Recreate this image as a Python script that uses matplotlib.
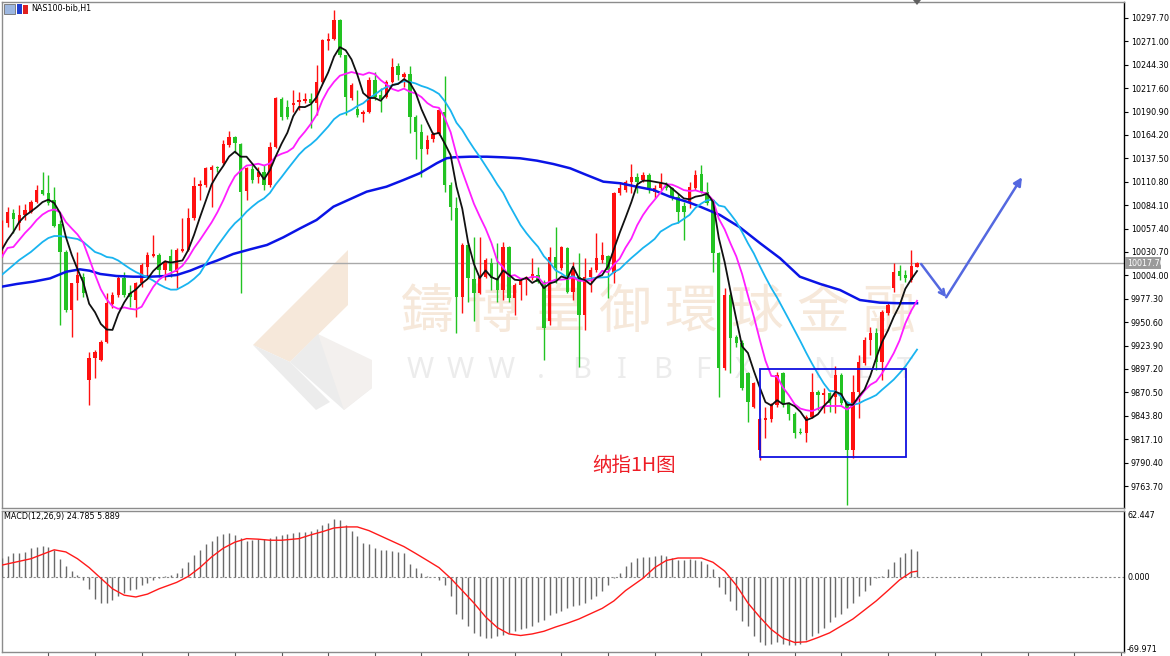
import matplotlib
matplotlib.use('Agg')
import matplotlib.pyplot as plt
from matplotlib.transforms import Affine2D
from matplotlib.patches import Polygon, Rectangle
import numpy as np
import pandas as pd

plt.rcParams['font.family'] = ['DejaVu Sans']

# ---------------- data (NAS100 H1 candles) ----------------
opens = [10030,10064,10075,10064,10073,10076,10088,10101,10098,10090,
         10063,10031,9965,9995,10002,9885,9910,9907,9928,9971,
         9982,10001,9984,9976,9995,10014,10026,10027,10010,10026,
         10008,10032,10033,10070,10106,10107,10124,10128,10132,10153,
         10162,10154,10100,10125,10116,10122,10107,10151,10205,10196,
         10198,10202,10203,10205,10201,10225,10271,10274,10295,10255,
         10206,10194,10188,10190,10227,10210,10207,10225,10243,10230,
         10234,10185,10168,10148,10160,10165,10190,10107,10081,9979,
         10039,10000,9984,10002,10018,10001,9987,10036,9978,9993,
         9999,10001,10004,9997,9952,10025,10012,10035,9985,10002,
         9959,10002,10010,10022,10026,10007,10098,10101,10110,10116,
         10113,10119,10099,10104,10108,10104,10093,10083,10087,10104,
         10120,10099,10090,10030,9898,9982,9934,9927,9893,9854,
         9805,9839,9840,9856,9893,9858,9846,9825,9824,9842,
         9871,9867,9870,9865,9890,9858,9805,9871,9904,9930,
         9938,9905,9961,9990,10009,10004,9999,10014]
highs = [10067,10082,10080,10084,10085,10090,10107,10122,10119,10105,
         10067,10033,9995,10031,10007,9917,9919,9930,9984,9985,
         10004,10008,9993,9997,10018,10031,10050,10030,10022,10034,
         10035,10070,10081,10116,10113,10128,10130,10129,10159,10169,
         10163,10155,10128,10132,10128,10130,10156,10207,10207,10204,
         10216,10213,10212,10212,10244,10274,10281,10307,10297,10256,
         10224,10216,10193,10230,10236,10218,10227,10252,10246,10236,
         10243,10187,10177,10164,10168,10195,10231,10110,10093,10041,
         10041,10048,10048,10024,10024,10041,10042,10038,9995,10001,
         10003,10024,10014,9999,10036,10059,10038,10036,10019,10030,
         10024,10014,10052,10042,10027,10099,10110,10113,10131,10121,
         10122,10121,10107,10121,10110,10105,10098,10088,10110,10124,
         10130,10110,10091,10031,9990,9984,9936,9930,9894,9882,
         9841,9854,9858,9894,9894,9859,9848,9830,9845,9893,
         9873,9876,9871,9901,9893,9861,9890,9913,9934,9945,
         9944,9965,9972,10018,10016,10010,10033,10019]
lows = [10025,10059,10052,10056,10067,10075,10087,10096,10084,10059,
        9947,9962,9934,9976,9979,9856,9887,9906,9927,9967,
        9979,9979,9968,9957,9991,10002,10025,10002,9999,10002,
        9990,10031,10032,10067,10090,10105,10082,10122,10130,10151,
        10144,9984,10090,10109,10109,10101,10105,10149,10181,10182,
        10190,10193,10201,10172,10187,10224,10261,10273,10253,10187,
        10204,10185,10179,10189,10204,10190,10206,10224,10227,10219,
        10166,10137,10116,10143,10156,10164,10099,10067,9938,9961,
        9974,9952,9983,10001,9987,9974,9976,9974,9959,9976,
        9982,9999,9995,9907,9947,9995,10010,9984,9976,9899,
        9942,9985,10008,10018,9978,9995,10096,10099,10098,10098,
        10111,10098,10092,10101,10101,10090,10064,10044,10081,10101,
        10098,10084,10008,9865,9896,9893,9922,9873,9837,9853,
        9793,9818,9837,9854,9854,9839,9818,9823,9814,9841,
        9850,9847,9848,9847,9856,9742,9796,9841,9902,9913,
        9896,9885,9959,9985,9999,9997,9997,10013]
closes = [10064,10076,10068,10073,10079,10088,10101,10097,10087,10060,
          10031,9965,9995,10004,9984,9910,9917,9928,9972,9982,
          10001,9982,9979,9995,10016,10027,10028,10010,10019,10009,
          10033,10034,10070,10106,10108,10127,10128,10127,10154,10162,
          10155,10099,10127,10113,10122,10107,10151,10206,10185,10185,
          10201,10204,10205,10201,10225,10273,10274,10295,10255,10207,
          10221,10187,10190,10227,10207,10205,10225,10242,10233,10234,
          10185,10168,10148,10159,10165,10193,10107,10082,9979,10039,
          10001,9984,10002,10022,10001,9987,10036,9978,9993,9998,
          10002,10006,9997,9944,10025,10012,10036,9985,10012,9959,
          10002,10010,10024,10027,10010,10098,10104,10110,10116,10111,
          10119,10104,10104,10110,10104,10093,10076,10076,10105,10119,
          10099,10087,10030,9898,9982,9933,9927,9875,9860,9881,
          9840,9841,9856,9890,9858,9846,9824,9824,9842,9871,
          9867,9870,9858,9890,9858,9805,9871,9905,9930,9938,
          9905,9962,9970,10008,10003,10001,10015,10017.7]

# moving-average values read from the chart where the window is not yet full
ma5_head = [10033.0, 10044.4, 10053.6, 10064.9]
ma10_head = [10025.0, 10035.3, 10036.4, 10044.4, 10052.4, 10059.2, 10067.2, 10073.4, 10077.4]
ma20_head = [10004.5, 10010.1, 10015.8, 10021.5, 10026.1, 10030.7, 10036.4, 10042.1, 10046.6, 10048.9,
             10048.9, 10047.8, 10046.6, 10045.5, 10042.1, 10036.4, 10030.7, 10028.4, 10025.0]
# long moving average (blue)
ma_long_idx = [0, 2.6, 5.4, 8.3, 11.1, 13.4, 15.1, 16.9, 19.7, 22.6, 25.4, 28.3, 30.0, 32.3, 34.0,
               36.9, 39.7, 42.6, 45.5, 48.3, 51.2, 54.0, 56.9, 59.7, 62.6,
               66.0, 68.9, 71.7, 74.6, 76.3, 77.5, 80.3, 83.2, 86.0, 88.9, 91.8, 94.6, 97.5, 100.3,
               103.2, 106.1, 108.9, 111.8, 114.6, 117.5,
               119.8, 123.2, 126.6, 130.1, 133.5, 136.9, 140.4, 143.8, 147.2, 150.6, 154.1, 157]
ma_long_val = [9991.1, 9994.2, 9996.8, 10000.6, 10008.2, 10010.9, 10009.3, 10005.6, 10003.3, 10002.5,
               10002.5, 10003.3, 10004.4, 10009.3, 10013.9, 10020.8, 10028.4, 10033.7, 10038.7, 10047.4,
               10057.7, 10067.2, 10082.4, 10090.8, 10099.5,
               10105.2, 10112.8, 10120.5, 10131.9, 10137.6, 10138.7, 10139.4, 10139.4, 10138.7, 10137.6,
               10134.9, 10131.1, 10126.2, 10118.6, 10110.9, 10109.1, 10105.2, 10101.4, 10093.8, 10088.1,
               10082.4, 10072.9, 10058.9, 10040.6, 10023.6, 10002.5, 9994.2, 9987.3, 9975.9, 9972.9,
               9972.2, 9972.2]

macd_hist = [18,
    20, 22.6, 23, 24, 27.5, 29, 30, 29, 26, 17.6, 11, 6, 2.7, -2.3, -10.6, -20.6, -24, -24, -21, -17,
    -14.6, -12, -10.6, -7.3, -5.6, -2.3, -0.7, 1, 2, 4.3, 9.3, 14.3, 21, 26, 31, 34, 39, 41, 42, 40,
    37.5, 34, 35, 36, 36.5, 37.5, 39,
    40,
    41, 42, 42.5, 43, 44, 46, 49, 51, 55, 54, 49, 44, 39, 32.5, 31, 27.5, 26, 26, 25, 24, 23, 12.6,
    9.3, 4.3, 1.7, 0, -2.3, -7.3, -17, -33.9, -39, -45.5, -52, -55.4, -56.4, -57, -55.4, -53.8, -52,
    -50.5, -48.8, -47, -45.5, -42, -40, -35.5, -33.2, -31.2, -28.9, -27.2, -25.6, -24, -20.6, -17.3,
    -12.3, -7.3, -0.7, 4.3, 11, 14.3, 18.3,
    19,
    19.3, 20, 21, 20.3, 18.6, 16.6, 16, 17.6, 16.6, 15.3, 12.6, 7.6, -9, -15.6, -22, -30.5, -40.5,
    -45.5, -55.4, -60.4, -63, -62, -61, -62, -63, -63.7, -62, -58.8, -55.4, -52, -47, -42, -37, -34,
    -29, -24, -17.3, -12.3, -7.3, -0.7, 1, 7.6, 14.3, 19.3, 22.6, 26.6,
    24.8]
signal_idx = [0, 5, 9, 11, 13, 15, 17, 19, 21, 23, 25, 27, 30, 32, 34, 36, 38, 40, 42, 44, 46, 48,
              51, 53, 55, 57, 59, 61, 63, 65, 67, 69, 71, 73, 75, 77, 79, 81, 83, 85, 87, 89, 91, 93,
              95, 97, 99, 101, 103, 105, 107, 110, 112, 114, 116, 118, 120, 122, 124, 126, 128, 130,
              132, 134, 136, 138, 140, 142, 144, 146, 148, 150, 152, 154, 156, 157]
signal_val = [11.6, 17.6, 26, 24, 17.6, 9.3, -0.7, -10.6, -16.6, -18.3, -15.6, -10.6, -4.6, 1, 9.3,
              19.3, 27.5, 33.2, 36.5, 36, 35, 35, 36.5, 40, 43, 46.5, 47.5, 47.5, 44, 39, 34, 29, 22.6,
              16, 9.3, -0.7, -12.3, -24, -37, -47, -53, -54.5, -53, -50.5, -46.5, -43, -39, -34, -29,
              -22, -12.3, -0.7, 9.3, 16, 18.3, 18.3, 18.3, 14.3, 6, -7.3, -24, -37, -48.8, -57, -61,
              -60.4, -56.4, -52, -45.5, -39, -30.5, -22, -12.3, -2.3, 5.0, 5.889]

price_ticks = [10297.70, 10271.00, 10244.30, 10217.60, 10190.90, 10164.20, 10137.50, 10110.80,
               10084.10, 10057.40, 10030.70, 10004.00, 9977.30, 9950.60, 9923.90, 9897.20, 9870.50,
               9843.80, 9817.10, 9790.40, 9763.70]
last_price = 10017.70
price_range = [9738.6, 10315.9]
macd_range = [-69.971, 62.447]
box_x = [130.0, 155.1]
box_y = [9797.0, 9897.0]
arrow_x = [157.7, 162.0, 175.0]
arrow_y = [10017.0, 9979.0, 10116.0]
x_range = [0.05, 192.5]

# ---------------- figure ----------------
W, H = 1170, 656
fig = plt.figure(figsize=(W / 100, H / 100), dpi=100)
pxT = Affine2D().scale(1, -1).translate(0, H)   # pixel coords measured from the top-left
L, R = 2, 1124

def rect(top, bottom):
    return [L / W, 1 - bottom / H, (R - L) / W, (bottom - top) / H]

ax = fig.add_axes(rect(2, 508))
ax2 = fig.add_axes(rect(511, 652))

n = len(closes)
idx = np.arange(n)
o = np.array(opens, float); h = np.array(highs, float)
l = np.array(lows, float); c = np.array(closes, float)
up = c >= o
col = np.where(up, '#ff1010', '#22c322')

# watermark
beige = '#f6e8da'
grayw = '#ececec'
for poly, fc in [
    ([(253, 345), (348, 250), (348, 305), (290, 362)], beige),
    ([(290, 362), (318, 334), (372, 388), (344, 410)], grayw),
    ([(253, 345), (290, 362), (330, 402), (316, 410)], grayw),
    ([(344, 410), (372, 388), (372, 360), (318, 334)], '#f3f0ee'),
]:
    ax.add_patch(Polygon(poly, closed=True, transform=pxT, fc=fc, ec='none', zorder=0.5))
wm_chars = '鑄博皇御環球金融'
for k, ch in enumerate(wm_chars):
    ax.text(427 + 66 * k, 312, ch, transform=pxT, fontsize=38, color=beige,
            family=['Noto Sans CJK TC'], ha='center', va='center', zorder=0.6)
for k, ch in enumerate('WWW.BIBFX.NET'):
    ax.text(420 + 40.4 * k, 370, ch, transform=pxT, fontsize=21, color=grayw,
            family=['Noto Sans'], ha='center', va='center', zorder=0.6)

ax.axhline(last_price, color='#a9a9a9', lw=1, zorder=2)

ax.vlines(idx, l, h, colors=col, lw=1, zorder=3)
body = np.maximum(np.abs(c - o), 1.2)
ax.bar(idx, body, bottom=np.minimum(o, c), width=0.58, color=col, lw=0, zorder=4)

cs = pd.Series(closes, dtype=float)
ma5 = cs.rolling(5).mean().to_numpy(); ma5[:4] = ma5_head
ma10 = cs.rolling(10).mean().to_numpy(); ma10[:9] = ma10_head
ma20 = cs.rolling(20).mean().to_numpy(); ma20[:19] = ma20_head

ax.plot(ma_long_idx, ma_long_val, color='#0a14e6', lw=1.8, zorder=5)
ax.plot(idx, ma20, color='#19b4f0', lw=1.3, zorder=6)
ax.plot(idx, ma10, color='#ff1eff', lw=1.3, zorder=7)
ax.plot(idx, ma5, color='#111111', lw=1.3, zorder=8)

ax.add_patch(Rectangle((box_x[0], box_y[0]), box_x[1] - box_x[0], box_y[1] - box_y[0],
                       fill=False, ec='#1010e0', lw=1.3, zorder=9))
ax.annotate('', xy=(arrow_x[1], arrow_y[1]), xytext=(arrow_x[0], arrow_y[0]),
            arrowprops=dict(arrowstyle='->', color='#5468e0', lw=1.8, mutation_scale=10,
                            shrinkA=0, shrinkB=0), zorder=9)
ax.annotate('', xy=(arrow_x[2], arrow_y[2]), xytext=(arrow_x[1], arrow_y[1]),
            arrowprops=dict(arrowstyle='-|>', color='#5468e0', lw=1.8, mutation_scale=12,
                            shrinkA=0, shrinkB=0), zorder=9)

ax.text(634, 465, '纳指1H图', transform=pxT, fontsize=14, color='#ee1c25',
        family=['Noto Sans CJK SC'], ha='center', va='center', zorder=10)

ax.set_xlim(*x_range)
ax.set_ylim(*price_range)
ax.set_xticks([])
ax.yaxis.tick_right()
ax.set_yticks(price_ticks)
ax.set_yticklabels([f'{p:.2f}' for p in price_ticks])
ax.tick_params(axis='y', direction='out', length=3, width=0.8, labelsize=5.8, pad=2, colors='black')

# MACD panel
ax2.vlines(idx, 0, macd_hist, colors='#6a6a6a', lw=1, zorder=3)
ax2.plot(signal_idx, signal_val, color='#ff1a1a', lw=1, zorder=4)
ax2.axhline(0, color='#8a8a8a', lw=0.8, ls=(0, (2, 2)), zorder=2)
ax2.set_xlim(*x_range)
ax2.set_ylim(*macd_range)
ax2.set_yticks([])
ax2.set_xticks(np.arange(8, 193, 8))
ax2.tick_params(axis='x', direction='out', length=4, width=0.8, labelbottom=False, color='#555555')

for a in (ax, ax2):
    for s in ('left', 'top', 'bottom'):
        a.spines[s].set_color('#8c8c8c')
        a.spines[s].set_linewidth(1)
    a.spines['right'].set_color('black')
    a.spines['right'].set_linewidth(1)

# price label box
fig.patches.append(Rectangle((1125, 257), 36, 12, transform=pxT, fc='#9a9a9a', ec='none'))
fig.text(1127, 263.2, f'{last_price:.2f}', transform=pxT, fontsize=5.8, color='white', va='center')

fig.text(1127, 515, f'{macd_range[1]:.3f}', transform=pxT, fontsize=5.8, va='center')
fig.text(1127, 577.5, '0.000', transform=pxT, fontsize=5.8, va='center')
fig.text(1127, 650, f'{macd_range[0]:.3f}', transform=pxT, fontsize=5.8, va='center')
fig.text(4, 516, 'MACD(12,26,9) 24.785 5.889', transform=pxT, fontsize=5.8, va='center')
fig.text(31, 9, 'NAS100-bib,H1', transform=pxT, fontsize=5.8, va='center')

# small title icons and shift marker
fig.patches.append(Rectangle((4, 4), 11, 10, transform=pxT, fc='#9db7e0', ec='#707070', lw=0.6))
fig.patches.append(Rectangle((17, 4), 5, 10, transform=pxT, fc='#2040d0', ec='none'))
fig.patches.append(Rectangle((23, 5), 5, 9, transform=pxT, fc='#e02020', ec='none'))
fig.patches.append(Polygon([(913, 0), (921, 0), (917, 5)], closed=True, transform=pxT, fc='#606060', ec='none'))

fig.savefig('out.png', dpi=100)
